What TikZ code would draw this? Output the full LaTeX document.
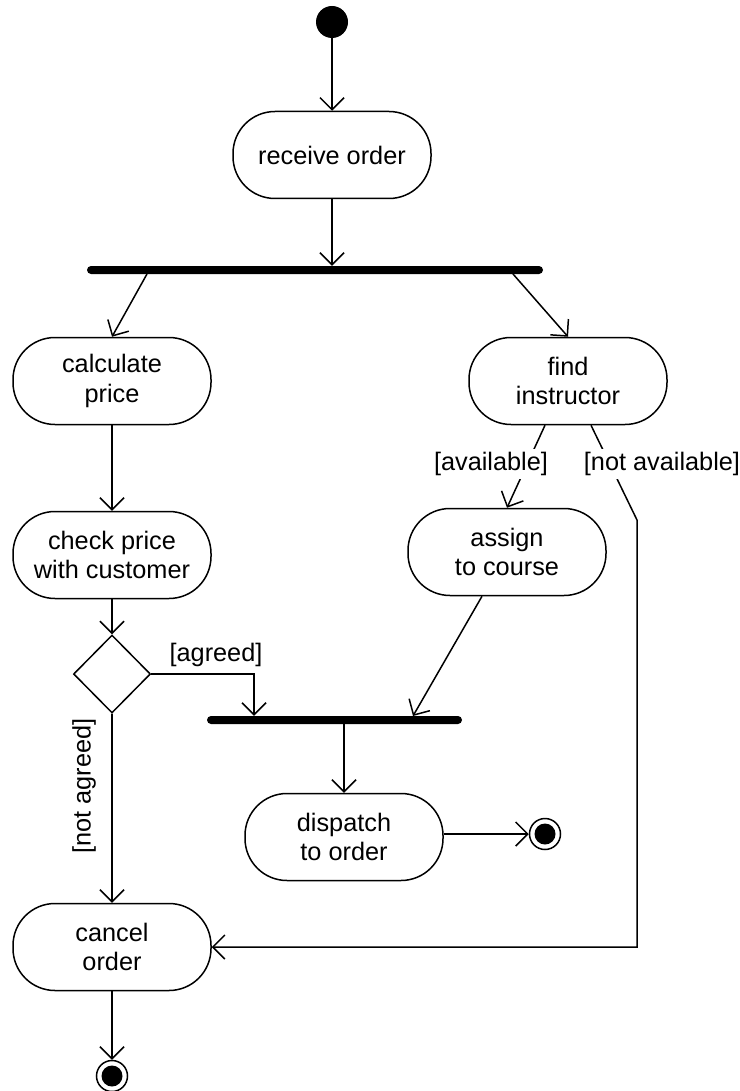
\documentclass[tikz,border=0pt]{standalone}
\usepackage{fontspec}
\setmainfont{Liberation Sans}
\usetikzlibrary{arrows.meta,shapes.geometric,calc}

\begin{document}
\begin{tikzpicture}[x=1pt,y=-1pt,
  every node/.style={font=\fontsize{25.3}{29.5}\selectfont},
  act/.style={draw, line width=1.5pt, rounded corners=42pt, minimum width=198pt,
    minimum height=87pt, align=center, inner sep=0pt},
  bar/.style={fill=black, rounded corners=4pt, inner sep=0pt, minimum height=8pt},
  flow/.style={line width=1.5pt, -{Straight Barb[length=12pt,width=24pt,line width=1.5pt]}},
  guard/.style={fill=white, inner sep=3pt},
  startnode/.style={circle, fill=black, minimum size=32pt, inner sep=0pt},
  endnode/.style={circle, draw, line width=1.5pt, minimum size=31pt, inner sep=0pt},
  decision/.style={diamond, draw, line width=1.5pt, minimum width=77pt, minimum height=78pt, inner sep=0pt}
]
\useasboundingbox (0,0) rectangle (739,1091);

% nodes
\node[startnode] (init) at (332,22) {};
\node[act] (recv) at (332,155) {receive order};
\node[bar, minimum width=456pt] (fork) at (315,270) {};
\node[act] (calc) at (112,381) {calculate\\price};
\node[act] (find) at (568,381) {find\\instructor};
\node[act] (check) at (112,555) {check price\\with customer};
\node[decision] (dec) at (112,674) {};
\node[act] (assign) at (507,552) {assign\\to course};
\node[bar, minimum width=255pt] (join) at (334.5,720) {};
\node[act] (dispatch) at (344,837) {dispatch\\to order};
\node[endnode] (fin2) at (545,834) {};
\fill (fin2) circle (10.5pt);
\node[act] (cancel) at (112,947) {cancel\\order};
\node[endnode] (fin1) at (112,1076) {};
\fill (fin1) circle (10.5pt);

% bend and free-end points
\coordinate (forkL) at (147,274);
\coordinate (forkR) at (513,274);
\coordinate (agr) at (254,674);
\coordinate (joinR) at (413,716);
\coordinate (na1) at (637,520);
\coordinate (na2) at (637,947);

% connectors
\draw[flow] (init) -- (recv.north);
\draw[flow] (recv.south) -- (recv.south |- fork.north);
\draw[flow] (forkL) -- (calc.north);
\draw[flow] (forkR) -- (find.north);
\draw[flow] (calc.south) -- (check.north);
\draw[flow] (check.south) -- (dec.north);
\draw[flow] (dec.east) -- (agr) -- (agr |- join.north);
\draw[flow] (dec.south) -- (cancel.north);
\draw[flow] ($(find.south)+(-23,0)$) -- (assign.north);
\draw[flow] ($(find.south)+(23,0)$) -- (na1) -- (na2) -- (cancel.east);
\draw[flow] ($(assign.south)+(-25,0)$) -- (joinR);
\draw[flow] (dispatch.north |- join.south) -- (dispatch.north);
\draw[flow] (dispatch.east |- fin2) -- (fin2.west);
\draw[flow] (cancel.south) -- (fin1.north);

% guard labels
\node[guard] (gav) at (491,464) {[available]};
\node[guard] (gna) at (662,464) {[not available]};
\node[inner sep=0pt] (gag) at (216,655) {[agreed]};
\node[rotate=90, inner sep=0pt] (gnag) at (84,786) {[not agreed]};
\end{tikzpicture}
\end{document}
